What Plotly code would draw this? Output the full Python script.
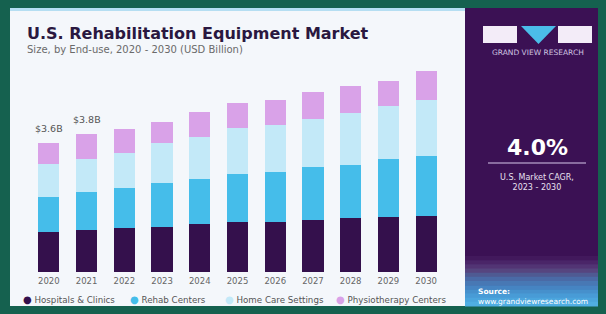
import plotly.graph_objects as go

years = ["2020", "2021", "2022", "2023", "2024", "2025", "2026", "2027", "2028", "2029", "2030"]
hospitals = [1.11, 1.17, 1.22, 1.25, 1.33, 1.39, 1.39, 1.44, 1.50, 1.53, 1.56]
rehab = [0.97, 1.06, 1.11, 1.22, 1.25, 1.33, 1.39, 1.47, 1.47, 1.61, 1.67]
home_care = [0.92, 0.92, 0.97, 1.11, 1.17, 1.28, 1.31, 1.33, 1.44, 1.47, 1.56]
physio = [0.58, 0.67, 0.67, 0.58, 0.69, 0.69, 0.69, 0.75, 0.75, 0.69, 0.78]
series_names = ["Hospitals & Clinics", "Rehab Centers", "Home Care Settings", "Physiotherapy Centers"]
series_colors = ["#34104c", "#45bdea", "#c3e9f8", "#d9a2e8"]
bar_labels = {"2020": "$3.6B", "2021": "$3.8B"}

W, H = 606, 314
L, R, T, B = 30, 161, 60, 42
PW, PH = W - L - R, H - T - B


def px(xp):
    return (xp - L) / PW


def py(yp):
    return (H - B - yp) / PH


fig = go.Figure()
for name, vals, col in zip(series_names, [hospitals, rehab, home_care, physio], series_colors):
    fig.add_trace(go.Bar(x=years, y=vals, name=name, marker=dict(color=col, line=dict(width=0)),
                         showlegend=False))

txt = "DejaVu Sans"
totals = [a + b + c + d for a, b, c, d in zip(hospitals, rehab, home_care, physio)]
annotations = []
for i, (yr, tot) in enumerate(zip(years, totals)):
    if yr in bar_labels:
        annotations.append(dict(x=i, y=tot, xref="x", yref="y", text=bar_labels[yr], showarrow=False,
                                yanchor="bottom", yshift=7,
                                font=dict(size=9.5, color="#555555", family=txt)))

shapes = []
# white panel
shapes.append(dict(type="rect", xref="paper", yref="paper", x0=px(10), x1=px(465), y0=py(306), y1=py(8),
                   fillcolor="#f4f7fb", line=dict(width=0), layer="below"))
shapes.append(dict(type="rect", xref="paper", yref="paper", x0=px(10), x1=px(465), y0=py(11), y1=py(8),
                   fillcolor="#b5def2", line=dict(width=0), layer="below"))
# purple panel
shapes.append(dict(type="rect", xref="paper", yref="paper", x0=px(465), x1=px(598), y0=py(306), y1=py(8),
                   fillcolor="#3b1154", line=dict(width=0), layer="below"))
# gradient at the bottom of purple panel
grad = ["#42195c", "#4a2568", "#523474", "#56457f", "#4f5a92", "#4a6aa6", "#4878b4",
        "#4684c2", "#4690cc", "#489bd6", "#4ba5dd", "#50aee3"]
y_start = 256
step = (306 - y_start) / len(grad)
for i, c in enumerate(grad):
    shapes.append(dict(type="rect", xref="paper", yref="paper", x0=px(465), x1=px(598),
                       y0=py(y_start + (i + 1) * step + 0.5), y1=py(y_start + i * step),
                       fillcolor=c, line=dict(width=0), layer="below"))
# logo
shapes.append(dict(type="rect", xref="paper", yref="paper", x0=px(483), x1=px(517), y0=py(43), y1=py(26),
                   fillcolor="#f3ecf8", line=dict(width=0)))
shapes.append(dict(type="rect", xref="paper", yref="paper", x0=px(558), x1=px(592), y0=py(43), y1=py(26),
                   fillcolor="#f3ecf8", line=dict(width=0)))
shapes.append(dict(type="path", xref="paper", yref="paper",
                   path="M %f %f L %f %f L %f %f Z" % (px(521), py(26), px(556), py(26), px(538.5), py(44)),
                   fillcolor="#4bbde9", line=dict(width=0)))
# separator line
shapes.append(dict(type="line", xref="paper", yref="paper", x0=px(488), x1=px(586), y0=py(163), y1=py(163),
                   line=dict(color="#d8c8ea", width=1)))

annotations += [
    dict(x=px(25), y=py(33), xref="paper", yref="paper", xanchor="left", yanchor="middle", showarrow=False,
         text="<b>U.S. Rehabilitation Equipment Market</b>", font=dict(size=16, color="#2a1840", family=txt)),
    dict(x=px(25), y=py(50), xref="paper", yref="paper", xanchor="left", yanchor="middle", showarrow=False,
         text="Size, by End-use, 2020 - 2030 (USD Billion)", font=dict(size=10, color="#6a6a6a", family=txt)),
    dict(x=px(538), y=py(52), xref="paper", yref="paper", xanchor="center", yanchor="middle", showarrow=False,
         text="GRAND VIEW RESEARCH", font=dict(size=7.5, color="#cfc3e0", family=txt)),
    dict(x=px(537), y=py(147), xref="paper", yref="paper", xanchor="center", yanchor="middle", showarrow=False,
         text="<b>4.0%</b>", font=dict(size=22, color="#ffffff", family=txt)),
    dict(x=px(537), y=py(182), xref="paper", yref="paper", xanchor="center", yanchor="middle", showarrow=False,
         text="U.S. Market CAGR,<br>2023 - 2030", font=dict(size=8, color="#e8e0f0", family=txt)),
    dict(x=px(476), y=py(296), xref="paper", yref="paper", xanchor="left", yanchor="middle", showarrow=False,
         align="left", text="<b>Source:</b><br>www.grandviewresearch.com", font=dict(size=7.5, color="#ffffff", family=txt)),
]

# legend built from series names/colours
legend_x = [21, 128, 223, 334]
for name, col, lx in zip(series_names, series_colors, legend_x):
    annotations.append(dict(x=px(lx), y=py(299), xref="paper", yref="paper", xanchor="left", yanchor="middle",
                            showarrow=False,
                            text="<span style='color:%s;font-size:10px'>●</span> %s" % (col, name),
                            font=dict(size=8.7, color="#555555", family=txt)))

fig.update_layout(
    width=W, height=H,
    margin=dict(l=L, r=R, t=T, b=B, pad=0),
    paper_bgcolor="#15614f",
    plot_bgcolor="rgba(0,0,0,0)",
    barmode="stack",
    bargap=0.44,
    showlegend=False,
    xaxis=dict(type="category", range=[-0.5, 10.5], showgrid=False, zeroline=False, showline=False,
               ticks="", tickfont=dict(size=8.5, color="#666666", family=txt), ticklabelstandoff=2),
    yaxis=dict(range=[0, PH / 36.0], visible=False, showgrid=False, zeroline=False),
    shapes=shapes,
    annotations=annotations,
)

fig.write_html("out.html", config={"displayModeBar": False},
               post_script="document.body.style.margin='0';document.body.style.background='#15614f';")
